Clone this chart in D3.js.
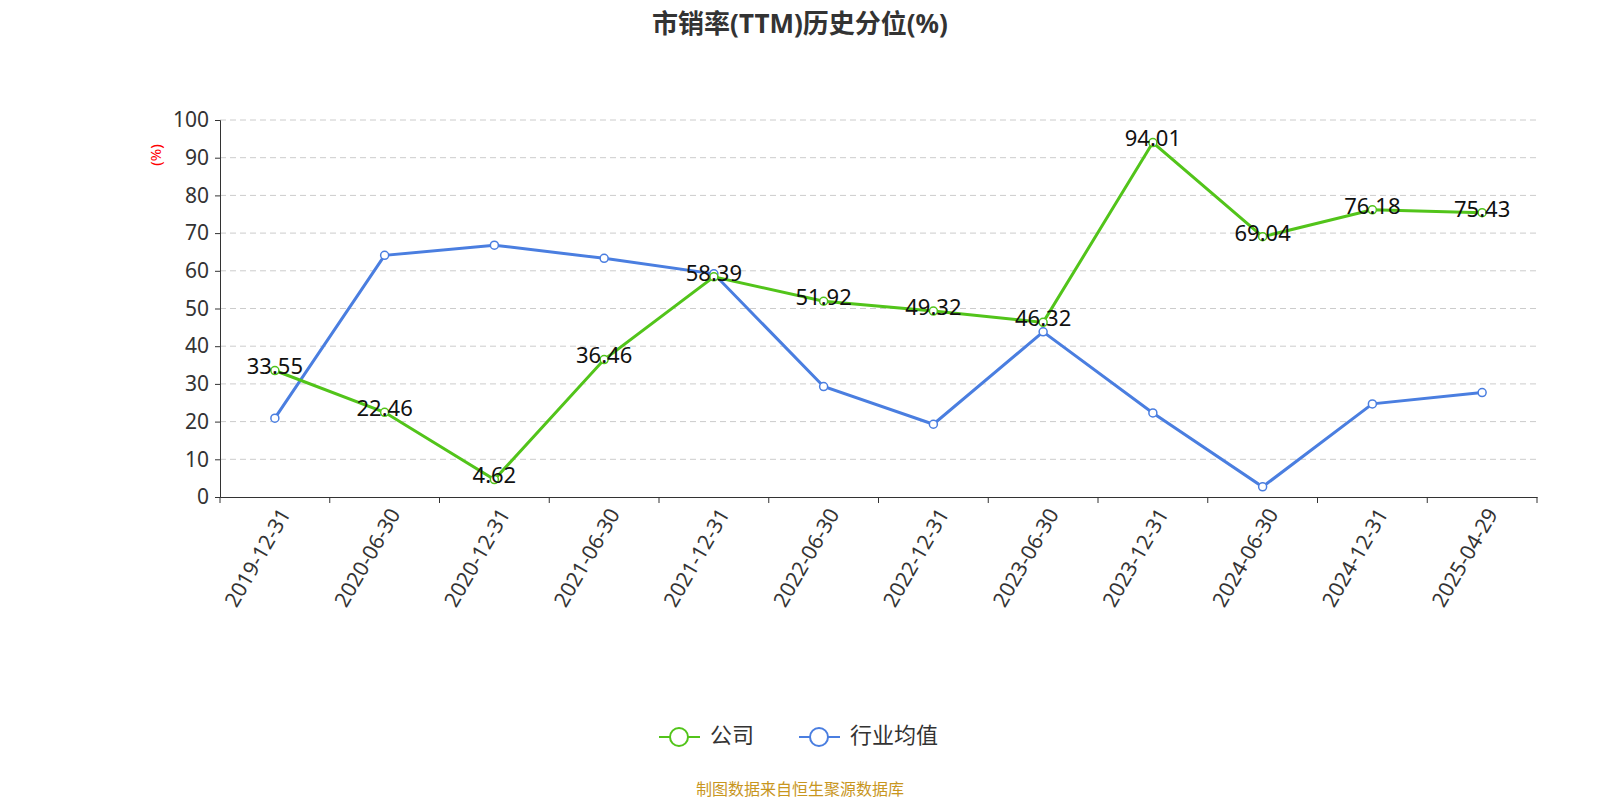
<!DOCTYPE html><html><head><meta charset="utf-8"><script src="https://cdn.jsdelivr.net/npm/d3@7"></script>
<style>body{margin:0;background:#fff;font-family:"Noto Sans","Noto Sans CJK SC",sans-serif}</style></head><body><svg width="1600" height="800"></svg>
<script>
const categories=["2019-12-31","2020-06-30","2020-12-31","2021-06-30","2021-12-31","2022-06-30","2022-12-31","2023-06-30","2023-12-31","2024-06-30","2024-12-31","2025-04-29"];
const company=[33.55,22.46,4.62,36.46,58.39,51.92,49.32,46.32,94.01,69.04,76.18,75.43];
const industry=[20.9,64.1,66.8,63.3,59.2,29.3,19.3,43.8,22.3,2.7,24.7,27.7];
const yTicks=[0,10,20,30,40,50,60,70,80,90,100];
const svg=d3.select("svg");
const L=220,R=1537,T=120,B=497;
const x=d3.scaleBand().domain(categories).range([L,R]);
const y=d3.scaleLinear().domain([0,100]).range([B,T]);
const F="'Noto Sans','Noto Sans CJK SC',sans-serif";
svg.append("text").attr("x",800).attr("y",33).attr("text-anchor","middle").attr("font-size",26).attr("font-weight","bold").attr("fill","#333").attr("font-family",F).text("市销率(TTM)历史分位(%)");
svg.append("g").selectAll("line").data(yTicks.slice(1)).join("line").attr("x1",L).attr("x2",R).attr("y1",d=>y(d)).attr("y2",d=>y(d)).attr("stroke","#ccc").attr("stroke-dasharray","6,4");
const ya=svg.append("g").attr("transform",`translate(${L},0)`).call(d3.axisLeft(y).tickValues(yTicks).tickSize(5).tickPadding(6));
ya.selectAll("text").attr("font-size",21).attr("fill","#333").attr("font-family",F);
ya.selectAll("line,path").attr("stroke","#333");
svg.append("text").attr("transform","translate(161,155) rotate(-90)").attr("text-anchor","middle").attr("font-size",15).attr("fill","red").attr("font-family",F).text("(%)");
const xa=svg.append("g").attr("transform",`translate(0,${B})`).call(d3.axisBottom(x).tickSize(0).tickPadding(10));
xa.select("path").attr("stroke","#333");
xa.selectAll("text").attr("font-size",21).attr("fill","#333").attr("font-family",F).attr("text-anchor","end").attr("dx","-0.3em").attr("dy","0.6em").attr("transform","rotate(-60)");
const bounds=categories.map(c=>x(c)).concat([R]);
svg.append("g").selectAll("line").data(bounds).join("line").attr("x1",d=>d).attr("x2",d=>d).attr("y1",B).attr("y2",B+6).attr("stroke","#333");
const cx=c=>x(c)+x.bandwidth()/2;
const line=d3.line().x((d,i)=>cx(categories[i])).y(d=>y(d));
function series(data,col){
 svg.append("path").datum(data).attr("d",line).attr("fill","none").attr("stroke",col).attr("stroke-width",3);
 svg.append("g").selectAll("circle").data(data).join("circle").attr("cx",(d,i)=>cx(categories[i])).attr("cy",d=>y(d)).attr("r",4).attr("fill","#fff").attr("stroke",col).attr("stroke-width",1.5);
}
series(industry,"#4a7ee0");
series(company,"#52c41a");
svg.append("g").selectAll("text").data(company).join("text").attr("x",(d,i)=>cx(categories[i])).attr("y",d=>y(d)-2).attr("text-anchor","middle").attr("dominant-baseline","middle").attr("font-size",22).attr("fill","#111").attr("font-family",F).text(d=>d.toFixed(2));
const lg=[["公司","#52c41a",659],["行业均值","#4a7ee0",799]];
lg.forEach(([t,c,lx])=>{
 svg.append("line").attr("x1",lx).attr("x2",lx+41).attr("y1",737).attr("y2",737).attr("stroke",c).attr("stroke-width",2);
 svg.append("circle").attr("cx",lx+20).attr("cy",737).attr("r",9).attr("fill","#fff").attr("stroke",c).attr("stroke-width",2);
 svg.append("text").attr("x",lx+51).attr("y",737).attr("dominant-baseline","middle").attr("font-size",22).attr("fill","#333").attr("font-family",F).text(t);
});
svg.append("text").attr("x",800).attr("y",795).attr("text-anchor","middle").attr("font-size",16).attr("fill","#c8961e").attr("font-family",F).text("制图数据来自恒生聚源数据库");
</script></body></html>
